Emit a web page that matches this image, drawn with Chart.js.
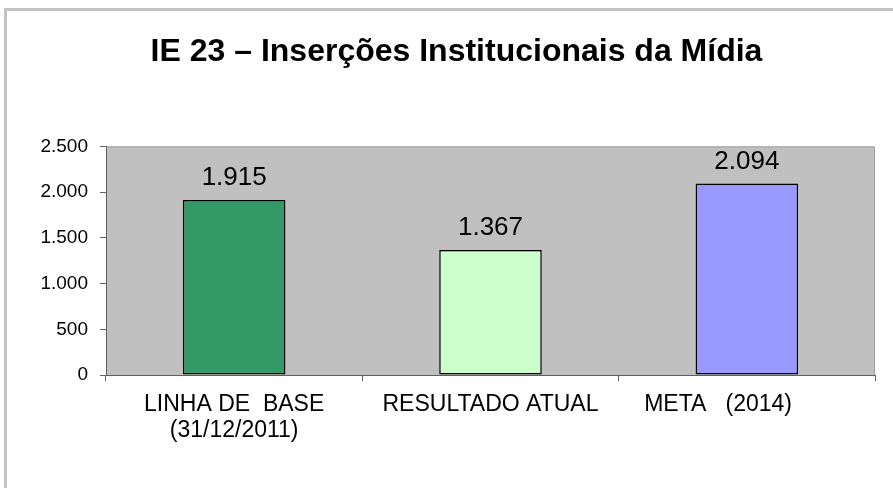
<!DOCTYPE html>
<html>
<head>
<meta charset="utf-8">
<script src="https://cdn.jsdelivr.net/npm/chart.js@4/dist/chart.umd.min.js"></script>
<style>
  html, body { margin: 0; padding: 0; background: #fff; overflow: hidden; }
  #frame { position: absolute; left: 4px; top: 8px; width: 1000px; height: 600px; border: 3px solid #c3c3c3; }
  #wrap { position: absolute; left: 0; top: 0; width: 893px; height: 488px; }
</style>
</head>
<body>
<div id="frame"></div>
<div id="wrap"><canvas id="myChart" width="893" height="488"></canvas></div>
<script>
// data
var categories = [["LINHA DE  BASE", "(31/12/2011)"], "RESULTADO ATUAL", "META   (2014)         "];
var values = [1915, 1367, 2094];
var barColors = ["#339966", "#ccffcc", "#9999ff"];
var yTicks = [0, 500, 1000, 1500, 2000, 2500];

function fmt(n) {
  // 1915 -> 1.915
  var s = String(Math.round(n));
  return s.replace(/\B(?=(\d{3})+(?!\d))/g, ".");
}

// grey plot background
var plotBg = {
  id: "plotBg",
  beforeDraw: function(chart) {
    var a = chart.chartArea, ctx = chart.ctx;
    ctx.save();
    ctx.fillStyle = "#c0c0c0";
    ctx.fillRect(a.left, a.top, a.right - a.left, a.bottom - a.top);
    ctx.strokeStyle = "#a0a0a0";
    ctx.lineWidth = 1;
    ctx.beginPath();
    ctx.moveTo(a.left, a.top + 0.5);
    ctx.lineTo(a.right - 0.5, a.top + 0.5);
    ctx.lineTo(a.right - 0.5, a.bottom);
    ctx.stroke();
    ctx.restore();
  }
};

// value labels over bars
var valueLabels = {
  id: "valueLabels",
  afterDatasetsDraw: function(chart) {
    var ctx = chart.ctx;
    var meta = chart.getDatasetMeta(0);
    ctx.save();
    ctx.font = "26px Arial, 'Liberation Sans', sans-serif";
    ctx.fillStyle = "#000";
    ctx.textAlign = "center";
    ctx.textBaseline = "alphabetic";
    meta.data.forEach(function(bar, i) {
      ctx.fillText(fmt(values[i]), bar.x, bar.y - 15);
    });
    ctx.restore();
  }
};

new Chart("myChart", {
  type: "bar",
  data: {
    labels: categories,
    datasets: [{
      data: values,
      backgroundColor: barColors,
      borderColor: "#000",
      borderWidth: 1.5,
      borderSkipped: false,
      barPercentage: 0.4,
      categoryPercentage: 1
    }]
  },
  options: {
    responsive: false,
    animation: false,
    devicePixelRatio: 1,
    layout: { padding: { left: 38, right: 18, top: 0, bottom: 0 } },
    plugins: {
      legend: { display: false },
      tooltip: { enabled: false },
      title: {
        display: true,
        text: "IE 23 – Inserções Institucionais da Mídia",
        color: "#000",
        font: { family: "Arial, 'Liberation Sans', sans-serif", size: 32, weight: "bold", lineHeight: 1.2 },
        padding: { top: 33, bottom: 75 }
      }
    },
    scales: {
      x: {
        offset: true,
        grid: { display: true, drawOnChartArea: false, offset: true, tickLength: 6, color: "#606060" },
        border: { color: "#606060", width: 1 },
        ticks: {
          color: "#000",
          padding: 10,
          maxRotation: 0,
          autoSkip: false,
          font: { family: "Arial, 'Liberation Sans', sans-serif", size: 23, lineHeight: 1.15 }
        },
        afterFit: function(s) { s.height = 113; }
      },
      y: {
        min: 0,
        max: 2500,
        afterBuildTicks: function(s) { s.ticks = yTicks.map(function(v) { return { value: v }; }); },
        grid: { display: true, drawOnChartArea: false, tickLength: 6, color: "#606060" },
        border: { color: "#606060", width: 1 },
        ticks: {
          color: "#000",
          padding: 12,
          font: { family: "Arial, 'Liberation Sans', sans-serif", size: 19 },
          callback: function(v) { return fmt(v); }
        },
        afterFit: function(s) { s.width = 68; }
      }
    }
  },
  plugins: [plotBg, valueLabels]
});
</script>
</body>
</html>
